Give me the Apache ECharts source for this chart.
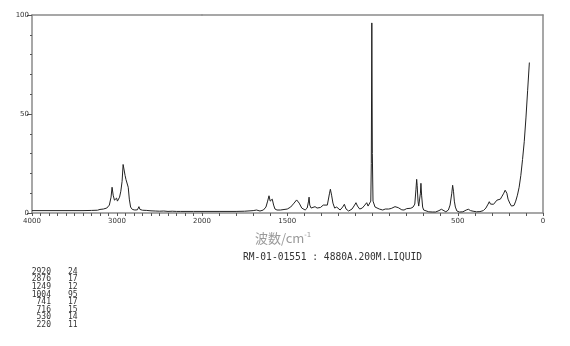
<!DOCTYPE html>
<html>
<head>
<meta charset="utf-8">
<script src="https://cdn.jsdelivr.net/npm/echarts@6/dist/echarts.min.js"></script>
<style>html,body{margin:0;padding:0;background:#fff}#c{width:570px;height:346px}</style>
</head>
<body>
<div id="c"></div>
<script>
// Raman shift (cm-1) and intensity
const wavenumbers = [
 4000,3800,3600,3400,3300,3230,3200,3160,3120,3090,3070,3058,3045,3030,3015,3005,2995,2985,2970,2955,2940,2928,2918,2905,2895,2885,2876,2868,2855,2840,2820,2790,2760,2742,2730,2700,2650,2600,2550,2500,2450,2400,2350,2300,2250,2200,2100,2000,
 1900,1800,1750,1700,1680,1660,1640,1625,1615,1607,1600,1596,1588,1580,1572,1560,1540,1500,1480,1460,1445,1430,1415,1395,1383,1375,1372,1368,1360,1350,1337,1325,1305,1289,1280,1265,1252,1247,1240,1232,1222,1210,1200,1190,1175,1165,1155,1140,1120,1105,1097,1088,1075,1060,1045,1034,1026,1016,1010,1007,1004,1001,997,992,985,975,960,940,925,917,905,890,880,868,858,849,840,828,815,800,790,775,762,752,745,741,738,733,729,724,719,716,712,706,700,690,670,650,630,610,596,585,570,555,545,535,530,525,520,514,505,490,470,450,438,425,410,390,370,350,335,322,315,308,300,290,280,270,260,250,240,230,222,217,212,205,195,185,178,170,160,150,140,130,120,110,100,90,80];
const intensities = [
 1.2,1.2,1.2,1.2,1.3,1.4,1.8,2.0,2.5,4,8,13,9,6.5,6,7.5,6,5,8,11,16,24.5,24,19,17,16,17,13,7,3,1.8,1.5,1.6,3.2,1.8,1.4,1.3,1.1,1.0,0.9,1.0,0.8,0.9,0.8,0.8,0.8,0.8,0.8,
 0.8,0.8,0.9,1.2,1.5,1.0,1.5,3,6,8.7,6,5.7,7,4,2,1.5,1.5,2,3,5,6.6,5,2.5,1.5,2.5,6,8,4,2.5,2.6,3.2,2.5,2.8,4,3,4,10,12,9,5,2.5,3,2.5,1.5,3,4.4,2,1,2,4,5.2,3.5,2,2.5,4,5.2,3.5,3.5,6,25,96,30,6,5.5,3,2,2,1.5,2,2.4,2,2.3,2.5,3.2,2.5,2.7,2,1.6,1.5,2.2,2.2,2.4,3,4.5,12,17,14,6,3.5,4,10,15,9,3,1.5,0.8,0.6,0.5,0.5,1.2,1.9,1.0,0.6,1.5,4,10,14,11,6,3,1,0.5,0.6,1.5,1.9,1.2,0.9,0.6,0.7,1.2,2.5,4.5,5.7,4.5,4.0,4.4,5,6.5,7.5,7,8.5,10,11.5,11.7,10,7,5,3.5,3.2,3.8,6,9,13,19,27,36,48,62,76];

const xLabelsHigh = [4000, 3000, 2000];
const xLabelsLow = [1500, 500, 0];
const yLabels = [0, 50, 100];
const peakWavenumbers = [2920, 2876, 1249, 1004, 741, 716, 530, 220];
const peakIntensities = [24, 17, 12, 95, 17, 15, 14, 11];

const pairs = wavenumbers.map((w, i) => [w, intensities[i]]);
const highPart = pairs.filter(p => p[0] >= 2000);
const lowPart = pairs.filter(p => p[0] <= 2000);

const axisColor = '#8a8a8a';
const labelFont = { fontSize: 7, color: '#333', fontFamily: 'DejaVu Sans', formatter: v => String(v) };

const chart = echarts.init(document.getElementById('c'), null, { renderer: 'canvas' });
chart.setOption({
  animation: false,
  backgroundColor: '#fff',
  grid: [
    { left: 32, top: 15, width: 170, height: 198 },
    { left: 202, top: 15, width: 341, height: 198 }
  ],
  xAxis: [
    { gridIndex: 0, type: 'value', min: 2000, max: 4000, inverse: true, interval: 100,
      axisLine: { onZero: false, lineStyle: { color: axisColor, width: 1.5 } },
      axisTick: { length: 3, lineStyle: { color: '#555' } },
      axisLabel: Object.assign({ customValues: xLabelsHigh, margin: 5 }, labelFont),
      splitLine: { show: false } },
    { gridIndex: 1, type: 'value', min: 0, max: 2000, inverse: true, interval: 100,
      axisLine: { onZero: false, lineStyle: { color: axisColor, width: 1.5 } },
      axisTick: { length: 3, lineStyle: { color: '#555' } },
      axisLabel: Object.assign({ customValues: xLabelsLow, margin: 5 }, labelFont),
      splitLine: { show: false } },
    { gridIndex: 0, type: 'value', position: 'top', min: 2000, max: 4000, inverse: true,
      axisLine: { onZero: false, lineStyle: { color: axisColor, width: 1.5 } },
      axisTick: { show: false }, axisLabel: { show: false }, splitLine: { show: false } },
    { gridIndex: 1, type: 'value', position: 'top', min: 0, max: 2000, inverse: true,
      axisLine: { onZero: false, lineStyle: { color: axisColor, width: 1.5 } },
      axisTick: { show: false }, axisLabel: { show: false }, splitLine: { show: false } }
  ],
  yAxis: [
    { gridIndex: 0, type: 'value', min: 0, max: 100, interval: 50,
      axisLine: { show: true, onZero: false, lineStyle: { color: axisColor, width: 1.5 } },
      axisTick: { show: true, length: 5, lineStyle: { color: '#555' } },
      minorTick: { show: true, splitNumber: 5, length: 2, lineStyle: { color: '#555' } },
      axisLabel: Object.assign({ customValues: yLabels, margin: 3 }, labelFont),
      splitLine: { show: false } },
    { gridIndex: 1, type: 'value', min: 0, max: 100, show: false },
    { gridIndex: 1, type: 'value', position: 'right', min: 0, max: 100,
      axisLine: { show: true, onZero: false, lineStyle: { color: axisColor, width: 1.5 } },
      axisTick: { show: false }, axisLabel: { show: false }, splitLine: { show: false } }
  ],
  series: [
    { type: 'line', xAxisIndex: 0, yAxisIndex: 0, data: highPart, showSymbol: false,
      lineStyle: { color: '#222', width: 1 } },
    { type: 'line', xAxisIndex: 1, yAxisIndex: 1, data: lowPart, showSymbol: false,
      lineStyle: { color: '#222', width: 1 } }
  ],
  graphic: [
    { type: 'text', x: 255, y: 232,
      style: { text: '{a|波数/cm}{b|-1}', rich: {
        a: { fontSize: 13, fill: '#9a9a9a', fontFamily: 'Noto Sans CJK JP' },
        b: { fontSize: 7, fill: '#9a9a9a', fontFamily: 'DejaVu Sans', verticalAlign: 'top', padding: [0,0,6,0] } } } },
    { type: 'text', x: 243, y: 252,
      style: { text: 'RM-01-01551 : 4880A.200M.LIQUID', fontSize: 9.6, fill: '#333', fontFamily: 'DejaVu Sans Mono' } },
    { type: 'text', x: 51, y: 268,
      style: { text: peakWavenumbers.join('\n'), fontSize: 8, lineHeight: 7.6, textAlign: 'right', fill: '#333', fontFamily: 'DejaVu Sans Mono' } },
    { type: 'text', x: 68, y: 268,
      style: { text: peakIntensities.join('\n'), fontSize: 8, lineHeight: 7.6, textAlign: 'left', fill: '#333', fontFamily: 'DejaVu Sans Mono' } }
  ]
});
</script>
</body>
</html>
